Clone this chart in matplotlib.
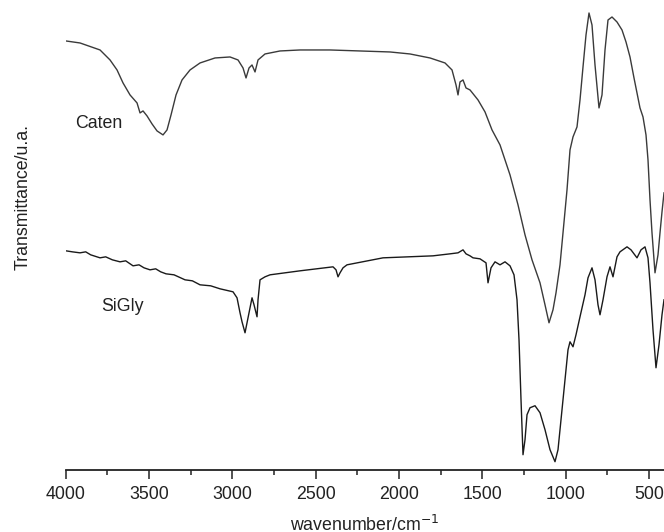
import matplotlib
matplotlib.use("Agg")
import matplotlib.pyplot as plt
from matplotlib.ticker import MultipleLocator

plt.rcParams['font.family'] = ['Liberation Sans', 'DejaVu Sans']

# ---- data (wavenumber in cm-1, transmittance in arbitrary units) ----
caten_wn = [3998, 3914, 3794, 3734, 3692, 3656, 3614, 3572, 3554, 3536, 3512, 3482, 3452, 3416,
            3392, 3368, 3338, 3302, 3254, 3194, 3104, 3014, 2966, 2936, 2918, 2900, 2882, 2864,
            2846, 2804, 2714, 2594, 2414, 2234, 2054, 1934, 1814, 1724, 1682, 1658, 1646, 1634,
            1616, 1598, 1574, 1526, 1484, 1442, 1394, 1334, 1286, 1244, 1202, 1154, 1124, 1100,
            1076, 1058, 1034, 1016, 992, 974, 956, 932, 914, 896, 878, 860, 842, 824, 800, 782,
            764, 746, 722, 692, 662, 638, 614, 590, 572, 554, 536, 518, 506, 494, 482, 464, 446,
            434, 422, 410]
caten_t = [42.9, 42.7, 42.0, 41.0, 40.0, 38.7, 37.5, 36.7, 35.7, 35.9, 35.4, 34.6, 33.9, 33.5,
           34.0, 35.5, 37.5, 39.0, 40.0, 40.7, 41.2, 41.3, 41.0, 40.2, 39.2, 40.2, 40.5, 39.8,
           41.0, 41.6, 41.9, 42.0, 42.0, 41.9, 41.8, 41.6, 41.2, 40.7, 40.0, 38.5, 37.5, 38.8,
           39.0, 38.2, 38.0, 37.0, 35.8, 34.0, 32.5, 29.5, 26.5, 23.5, 21.0, 18.7, 16.5, 14.7,
           16.0, 17.7, 20.5, 23.7, 28.0, 32.0, 33.3, 34.3, 37.0, 40.3, 43.5, 45.7, 44.5, 40.5,
           36.2, 37.5, 42.0, 45.0, 45.3, 44.8, 44.0, 42.8, 41.3, 39.2, 37.7, 36.2, 35.3, 33.5,
           31.0, 27.0, 23.7, 19.7, 21.5, 23.7, 25.8, 27.7]

sigly_wn = [3998, 3960, 3914, 3880, 3850, 3794, 3760, 3720, 3674, 3640, 3596, 3560, 3530, 3494,
            3460, 3430, 3398, 3350, 3284, 3240, 3194, 3130, 3074, 2996, 2972, 2954, 2942, 2924,
            2906, 2882, 2870, 2852, 2846, 2834, 2804, 2774, 2594, 2396, 2378, 2366, 2354, 2336,
            2312, 2096, 1796, 1694, 1646, 1616, 1598, 1574, 1556, 1514, 1478, 1466, 1448, 1424,
            1394, 1364, 1334, 1310, 1292, 1280, 1268, 1256, 1244, 1232, 1214, 1184, 1154, 1124,
            1094, 1064, 1046, 1028, 1016, 998, 986, 974, 956, 938, 914, 884, 866, 842, 824, 806,
            794, 776, 752, 734, 716, 692, 674, 632, 608, 572, 548, 524, 506, 494, 476, 458, 440,
            422, 410]
sigly_t = [21.9, 21.8, 21.7, 21.8, 21.5, 21.2, 21.3, 21.0, 20.8, 20.9, 20.4, 20.5, 20.2, 20.0,
           20.1, 19.8, 19.6, 19.5, 19.0, 18.9, 18.5, 18.4, 18.1, 17.8, 17.2, 15.7, 14.8, 13.7,
           15.2, 17.2, 16.5, 15.3, 17.0, 19.0, 19.3, 19.5, 19.9, 20.3, 20.0, 19.3, 19.7, 20.2,
           20.5, 21.2, 21.4, 21.6, 21.7, 22.0, 21.6, 21.4, 21.2, 21.1, 20.7, 18.7, 20.2, 20.8,
           20.5, 20.8, 20.4, 19.5, 17.0, 13.0, 7.0, 1.5, 3.0, 5.5, 6.2, 6.4, 5.7, 4.0,
           2.0, 0.8, 2.0, 5.0, 7.0, 10.0, 12.0, 12.8, 12.3, 13.5, 15.3, 17.5, 19.2, 20.2, 19.0, 16.5,
           15.5, 17.0, 19.3, 20.3, 19.3, 21.3, 21.8, 22.3, 22.0, 21.2, 22.0, 22.3, 21.2, 18.7, 14.0,
           10.2, 12.5, 15.5, 17.0]

labels = ["Caten", "SiGly"]
label_pos_wn = [3800, 3662]
label_pos_t = [34.65, 16.35]

x_ticks = [4000, 3500, 3000, 2500, 2000, 1500, 1000, 500]

# ---- figure ----
fig = plt.figure(figsize=(6.64, 5.32), dpi=100)
ax = fig.add_axes([65.7 / 664, (532 - 469.7) / 532, 1 - 65.7 / 664, 469.7 / 532])

ax.plot(caten_wn, caten_t, color='#3a3a3a', lw=1.0)
ax.plot(sigly_wn, sigly_t, color='#1a1a1a', lw=1.0)

ax.set_xlim(4000, 410)
ax.set_ylim(0, 47.0)

for s in ['top', 'right', 'left']:
    ax.spines[s].set_visible(False)
ax.spines['bottom'].set_linewidth(1.3)
ax.spines['bottom'].set_color('#222222')

ax.set_xticks(x_ticks)
ax.set_xticklabels([str(v) for v in x_ticks])
ax.xaxis.set_minor_locator(MultipleLocator(250))
ax.tick_params(axis='x', which='major', direction='out', length=6.5, width=1.1,
               labelsize=12.8, pad=5, colors='#222222')
ax.tick_params(axis='x', which='minor', direction='out', length=3.6, width=1.1, colors='#222222')
ax.set_yticks([])

ax.set_xlabel('wavenumber/cm$^{-1}$', fontsize=12.8, labelpad=9, color='#222222')
fig.text(23 / 664, 1 - 197 / 532, 'Transmittance/u.a.', rotation=90, ha='center', va='center',
         fontsize=12.8, color='#222222')

for lab, xw, yt in zip(labels, label_pos_wn, label_pos_t):
    ax.text(xw, yt, lab, ha='center', va='center', fontsize=12.8, color='#222222')

fig.savefig('out.png', dpi=100)
